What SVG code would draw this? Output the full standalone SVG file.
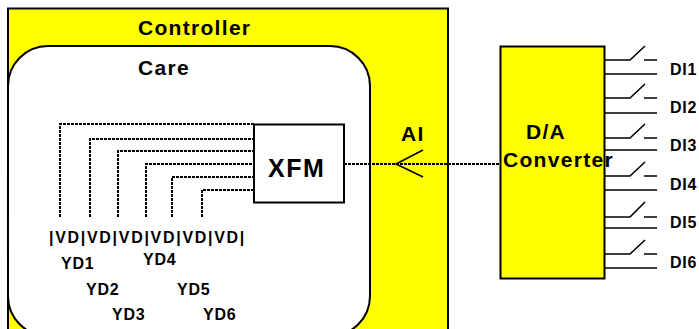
<svg xmlns="http://www.w3.org/2000/svg" width="699" height="329" viewBox="0 0 699 329">
<style>
text{font-family:"Liberation Sans",Arial,sans-serif;font-weight:bold;fill:#000}
.l{font-size:16px;letter-spacing:.8px}
.t{font-size:21px;letter-spacing:1.300px}
.box{stroke:#000;stroke-width:2;fill:#ff0}
.w{stroke:#000;stroke-width:2;fill:#fff}
.d{stroke:#000;stroke-width:2;fill:none;stroke-dasharray:3 1}
.s{stroke:#000;stroke-width:1.600;fill:none}
</style>
<rect width="699" height="329" fill="#fff"/>
<g id="controller"><rect class="box" x="8" y="8.500" width="440" height="340"/><text class="t" x="138" y="35">Controller</text></g>
<g id="care"><rect class="w" x="8" y="46" width="362" height="290" rx="40" ry="40"/><text class="t" x="138" y="75">Care</text></g>
<g id="connectors">
<path class="d" d="M60 217V124H254M90 217V139H254M118 217V151H254M146 217V164H254M172 217V177H254M202 217V190H254"/>
<path class="d" d="M344 164H500"/>
<path class="s" d="M423 150L396 164L423 177"/>
</g>
<g id="xfm"><rect class="w" x="254" y="124.500" width="90" height="78"/><text x="268" y="177" font-size="25" letter-spacing="1.500">XFM</text></g>
<g id="converter"><rect class="box" x="500.500" y="46.500" width="104" height="232"/><text class="t" x="526" y="139">D/A</text><text class="t" x="503" y="167">Converter</text></g>
<g id="ai"><text class="t" x="401" y="141">AI</text></g>
<g id="switches">
<path class="s" d="M604 60H630L645 46M644 60H657M604 74H657"/>
<path class="s" d="M604 98H630L645 84M644 98H657M604 113H657"/>
<path class="s" d="M604 138H630L645 124M644 138H657M604 150H657"/>
<path class="s" d="M604 176H630L645 162M644 176H657M604 190H657"/>
<path class="s" d="M604 217H630L645 202M644 217H657M604 228H657"/>
<path class="s" d="M604 254H630L645 240M644 254H657M604 268H657"/>
</g>
<g id="di">
<text class="l" x="670" y="75">DI1</text><text class="l" x="670" y="113">DI2</text><text class="l" x="670" y="151">DI3</text><text class="l" x="670" y="190">DI4</text><text class="l" x="670" y="228">DI5</text><text class="l" x="670" y="268">DI6</text>
</g>
<g id="labels">
<text class="l" x="49" y="243" style="letter-spacing:1.700px">|VD|VD|VD|VD|VD|VD|</text>
<text class="l" x="61" y="269">YD1</text><text class="l" x="86" y="295">YD2</text><text class="l" x="112" y="320">YD3</text>
<text class="l" x="143" y="265">YD4</text><text class="l" x="177" y="295">YD5</text><text class="l" x="203" y="320">YD6</text>
</g>
</svg>
